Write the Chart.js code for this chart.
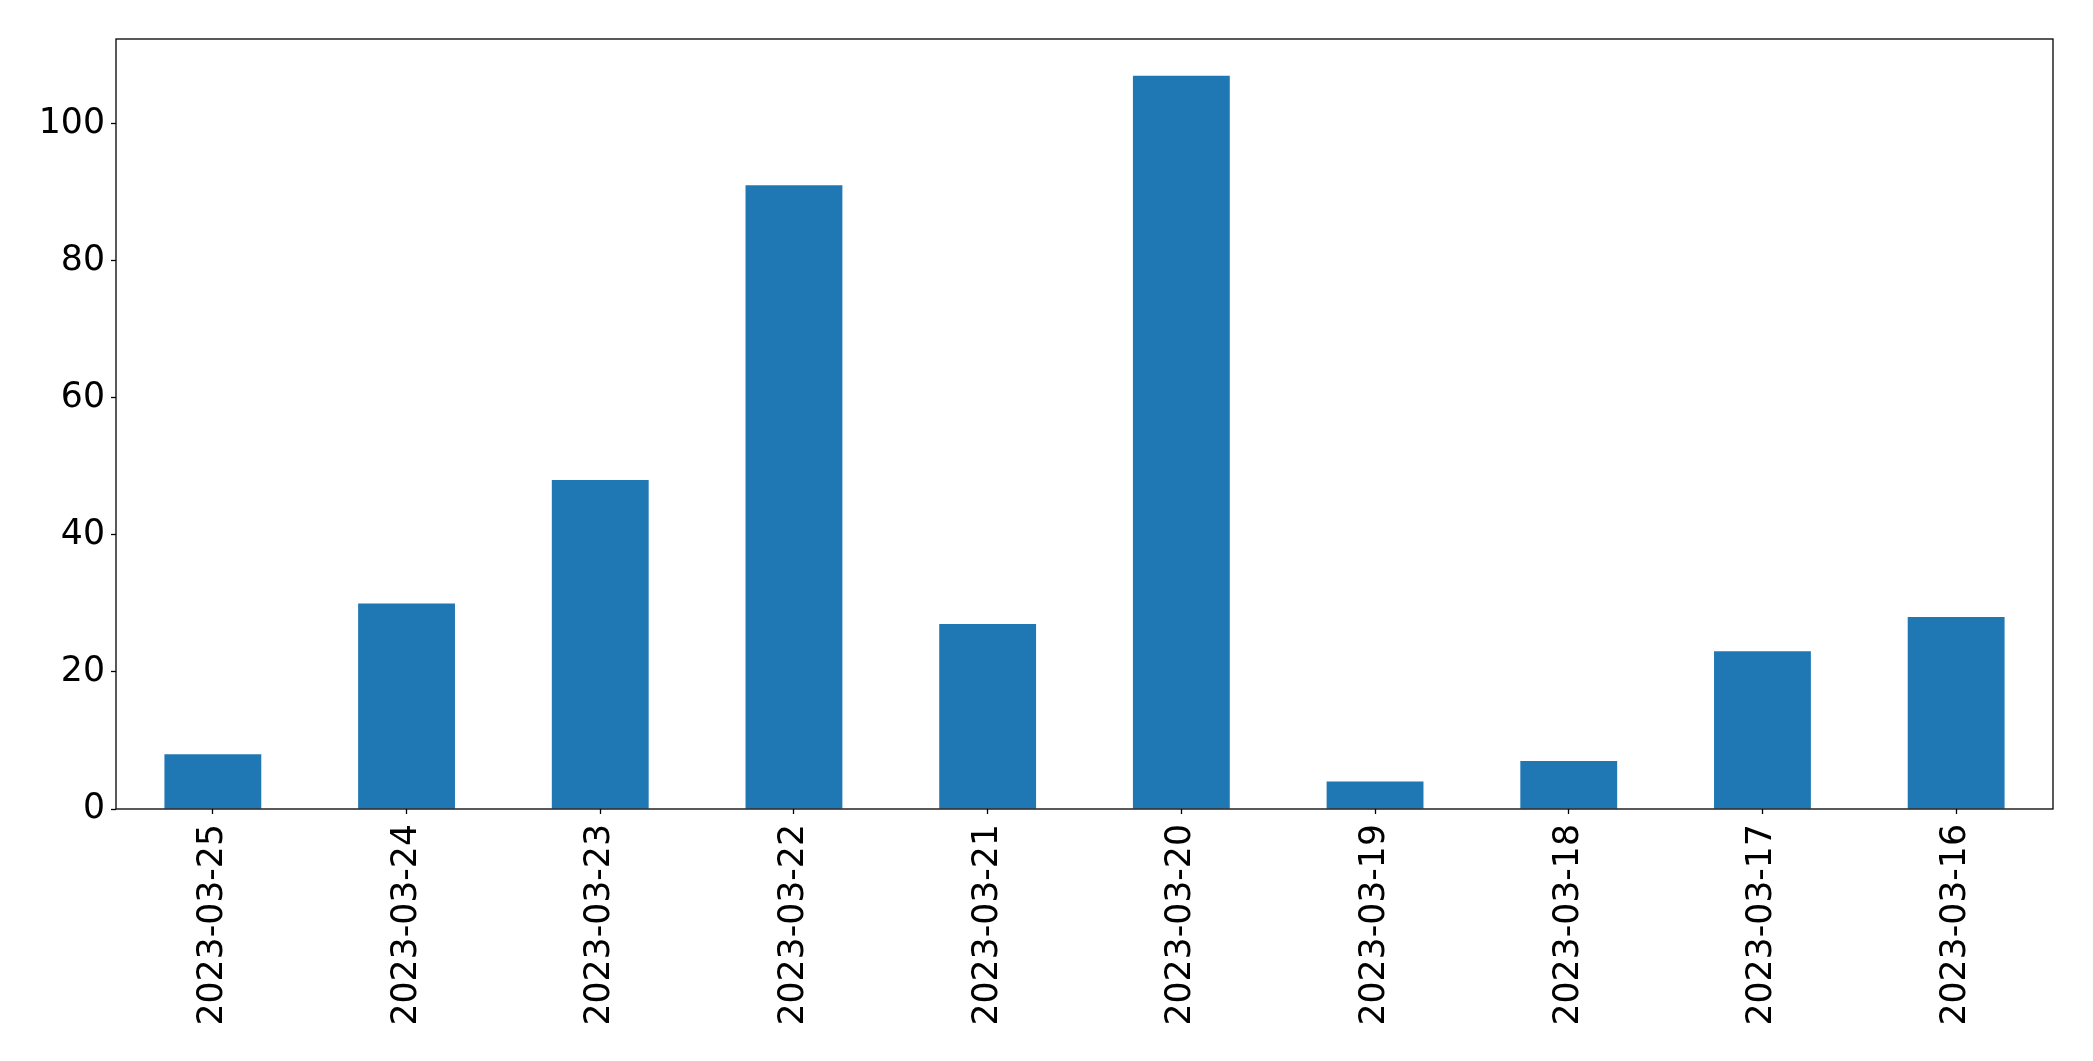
<!DOCTYPE html>
<html>
<head>
<meta charset="utf-8">
<script src="https://cdn.jsdelivr.net/npm/chart.js@4"></script>
<style>
html,body{margin:0;padding:0;background:#fff;}
canvas{display:block;}
</style>
</head>
<body>
<canvas id="c" width="2093" height="1061"></canvas>
<script>
const categories = ["2023-03-25","2023-03-24","2023-03-23","2023-03-22","2023-03-21","2023-03-20","2023-03-19","2023-03-18","2023-03-17","2023-03-16"];
const values = [8, 30, 48, 91, 27, 107, 4, 7, 23, 28];
const yTicks = [0, 20, 40, 60, 80, 100];
const yMax = 112.35;

const frame = {
  id: 'frame',
  afterDatasetsDraw(chart) {
    const a = chart.chartArea, ctx = chart.ctx;
    ctx.save();
    ctx.strokeStyle = '#000';
    ctx.lineWidth = 1.3;
    ctx.strokeRect(a.left, a.top, a.right - a.left, a.bottom - a.top);
    ctx.restore();
  }
};

new Chart(document.getElementById('c'), {
  type: 'bar',
  data: {
    labels: categories,
    datasets: [{
      data: values,
      backgroundColor: '#1f77b4',
      borderWidth: 0,
      barPercentage: 0.5,
      categoryPercentage: 1.0
    }]
  },
  options: {
    responsive: false,
    animation: false,
    devicePixelRatio: 1,
    layout: { padding: { top: 39, right: 40, left: 0, bottom: 0 } },
    plugins: { legend: { display: false }, tooltip: { enabled: false } },
    scales: {
      x: {
        offset: true,
        grid: { display: true, drawOnChartArea: false, offset: false, tickLength: 5, tickColor: '#000', tickWidth: 1.3 },
        border: { display: false },
        ticks: {
          color: '#000',
          font: { family: 'DejaVu Sans', size: 34.7 },
          minRotation: 90, maxRotation: 90,
          padding: 10,
          autoSkip: false
        },
        afterFit(s) { s.height = 1061 - 809; }
      },
      y: {
        min: 0, max: yMax,
        grid: { display: true, drawOnChartArea: false, tickLength: 5, tickColor: '#000', tickWidth: 1.3 },
        border: { display: false },
        ticks: {
          color: '#000',
          font: { family: 'DejaVu Sans', size: 34.7 },
          padding: 6
        },
        afterBuildTicks(s) { s.ticks = yTicks.map(v => ({ value: v })); },
        afterFit(s) { s.width = 116; }
      }
    }
  },
  plugins: [frame]
});
</script>
</body>
</html>
